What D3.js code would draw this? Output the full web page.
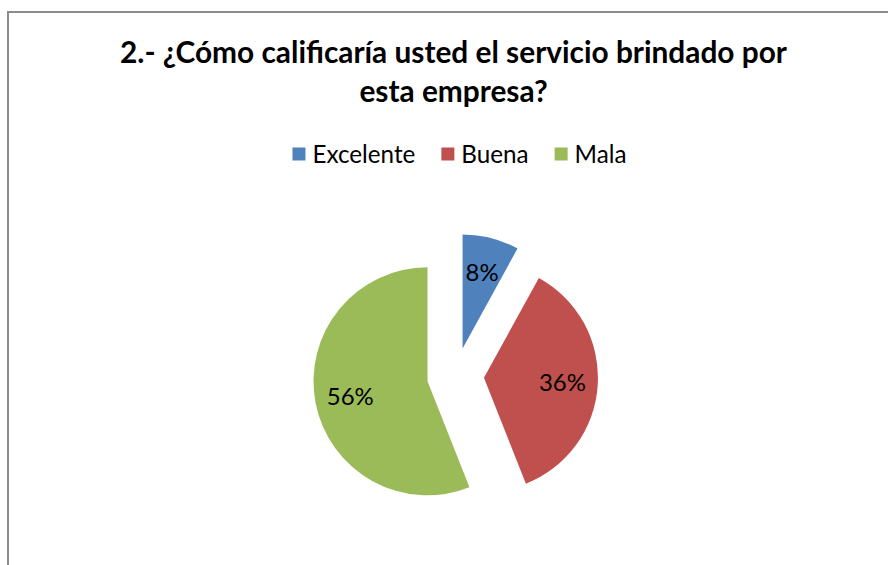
<!DOCTYPE html>
<html>
<head>
<meta charset="utf-8">
<script src="https://cdn.jsdelivr.net/npm/d3@7"></script>
<style>
  html, body { margin: 0; padding: 0; background: #fff; }
  svg { display: block; }
</style>
</head>
<body>
<svg id="chart" width="888" height="565"></svg>
<script>
const categories = ["Excelente", "Buena", "Mala"];
const values = [8, 36, 56];
const labels = ["8%", "36%", "56%"];
const colors = ["#4F81BD", "#C0504D", "#9BBB59"];
const titleLines = ["2.- ¿Cómo calificaría usted el servicio brindado por", "esta empresa?"];

const W = 888, H = 565;
const svg = d3.select("#chart");
const FONT = "Lato, 'Open Sans', sans-serif";

// chart frame
svg.append("rect")
  .attr("x", 8).attr("y", 12)
  .attr("width", W + 20).attr("height", H + 20)
  .attr("fill", "#fff")
  .attr("stroke", "#8c8c8c")
  .attr("stroke-width", 2);

// helper: fit font size so that text width matches target
function fitSize(sel, target) {
  const w = sel.node().getComputedTextLength();
  const fs = parseFloat(sel.attr("font-size"));
  sel.attr("font-size", fs * target / w);
}

// title
const titleBaselines = [63, 102];
const t1 = svg.append("text")
  .attr("x", 453.5).attr("y", titleBaselines[0])
  .attr("text-anchor", "middle")
  .attr("font-family", FONT).attr("font-weight", "bold")
  .attr("font-size", 26).attr("fill", "#000")
  .text(titleLines[0]);
fitSize(t1, 667);
const titleSize = t1.attr("font-size");
svg.append("text")
  .attr("x", 453.5).attr("y", titleBaselines[1])
  .attr("text-anchor", "middle")
  .attr("font-family", FONT).attr("font-weight", "bold")
  .attr("font-size", titleSize).attr("fill", "#000")
  .text(titleLines[1]);

// legend
const legend = svg.append("g");
const probe = legend.append("text").attr("font-family", FONT).attr("font-size", 20).text(categories[0]);
fitSize(probe, 103);
const legendSize = +probe.attr("font-size");
probe.remove();
const sq = 13, gapSqText = 7, gapItems = 26;
const items = legend.selectAll("g.item").data(categories).join("g").attr("class", "item");
items.append("rect")
  .attr("width", sq).attr("height", sq)
  .attr("y", 147.5)
  .attr("fill", (d, i) => colors[i]);
items.append("text")
  .attr("x", sq + gapSqText).attr("y", 163)
  .attr("font-family", FONT).attr("font-size", legendSize)
  .attr("fill", "#000")
  .text(d => d);
let widths = [];
items.each(function () {
  widths.push(d3.select(this).select("text").node().getComputedTextLength());
});
const itemW = widths.map(w => sq + gapSqText + w);
const total = d3.sum(itemW) + gapItems * (itemW.length - 1);
let xpos = 459.5 - total / 2;
items.each(function (d, i) {
  d3.select(this).attr("transform", `translate(${xpos},0)`);
  xpos += itemW[i] + gapItems;
});

// pie
const cx = 455.5, cy = 376, r = 114, explode = 28.5;
const pie = d3.pie().sort(null).value(d => d);
const arcs = pie(values);
const arc = d3.arc().innerRadius(0).outerRadius(r);
const labelArc = d3.arc().innerRadius(r * 0.69).outerRadius(r * 0.69);

const g = svg.append("g").attr("transform", `translate(${cx},${cy})`);
const slices = g.selectAll("g.slice").data(arcs).join("g")
  .attr("class", "slice")
  .attr("transform", d => {
    const a = (d.startAngle + d.endAngle) / 2;
    return `translate(${explode * Math.sin(a)},${-explode * Math.cos(a)})`;
  });
slices.append("path")
  .attr("d", arc)
  .attr("fill", (d, i) => colors[i]);

const lp = svg.append("text").attr("font-family", FONT).attr("font-size", 20).text(labels[1]);
fitSize(lp, 47);
const labelSize = lp.attr("font-size");
lp.remove();
slices.append("text")
  .attr("transform", d => `translate(${labelArc.centroid(d)})`)
  .attr("text-anchor", "middle")
  .attr("dy", "0.36em")
  .attr("font-family", FONT).attr("font-size", labelSize)
  .attr("fill", "#000")
  .text((d, i) => labels[i]);
</script>
</body>
</html>
